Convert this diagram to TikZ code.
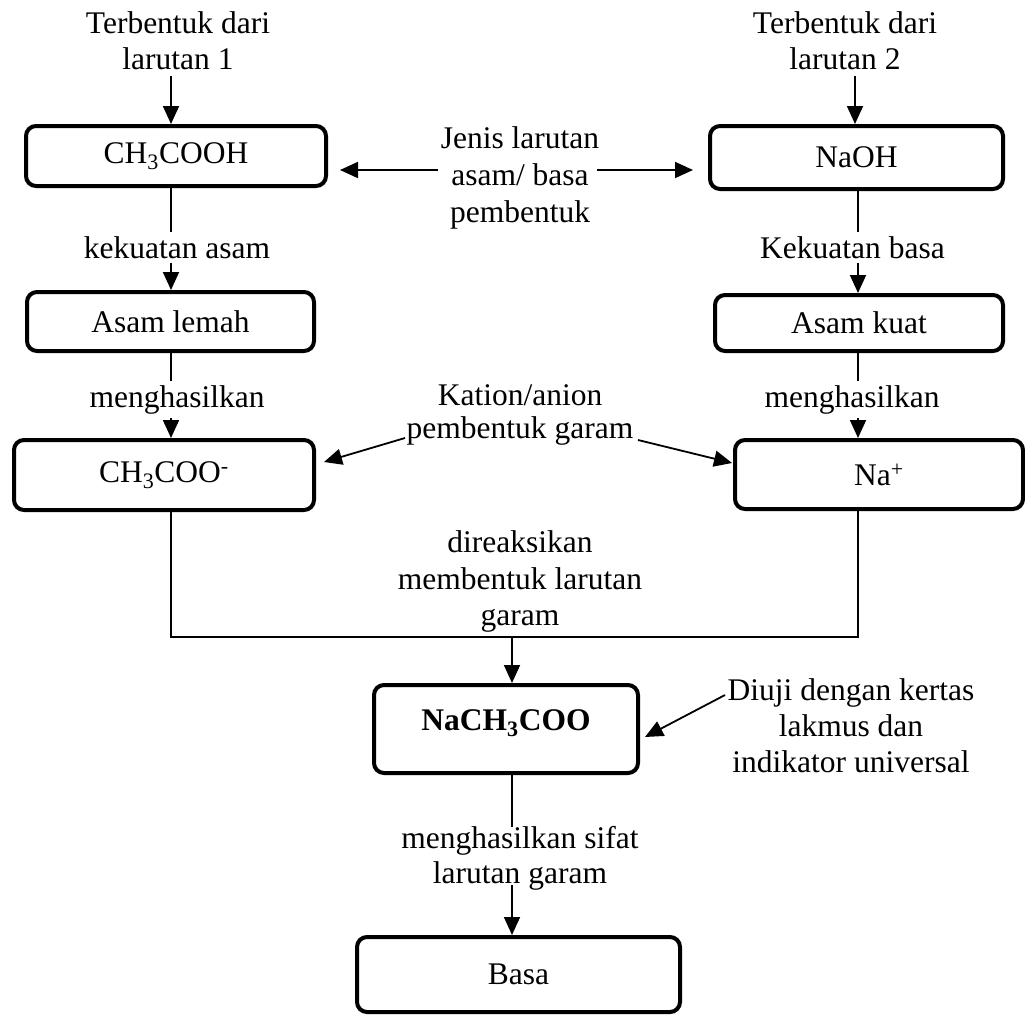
\documentclass[tikz,border=0pt]{standalone}
\usepackage{fontspec}
\setmainfont{Liberation Serif}
\usetikzlibrary{arrows.meta,calc}
\begin{document}
\begin{tikzpicture}[x=1pt,y=-1pt,
  font=\fontsize{31.5}{36}\selectfont,
  box/.style={draw, line width=4pt, rounded corners=10pt, inner sep=0pt, align=center},
  lbl/.style={inner sep=4pt, align=center, anchor=base},
  mlbl/.style={inner sep=0pt, align=center, anchor=north},
  conn/.style={line width=1.8pt},
  arr/.style={conn, -{Triangle[length=18pt,width=16pt]}}]

\useasboundingbox (0,0) rectangle (1025,1015);

% boxes
\node[box, minimum width=300pt, minimum height=60pt] (b1) at (176,156) {\raisebox{-3pt}{CH\textsubscript{3}COOH}};
\node[box, minimum width=293pt, minimum height=63pt] (b2) at (856.5,157.5) {\raisebox{-2pt}{NaOH}};
\node[box, minimum width=287pt, minimum height=59pt] (b3) at (170.5,321.5) {Asam lemah};
\node[box, minimum width=288pt, minimum height=56pt] (b4) at (859,323) {Asam kuat};
\node[box, minimum width=300pt, minimum height=70pt] (b5) at (164,475) {CH\textsubscript{3}COO\textsuperscript{-}};
\node[box, minimum width=288pt, minimum height=69pt] (b6) at (879,474.5) {Na\textsuperscript{+}};
\node[box, minimum width=264pt, minimum height=88pt] (b7) at (506,729) {};
\node[anchor=base, inner sep=0pt] (b7t) at (506,730) {\textbf{NaCH\textsubscript{3}COO}};
\node[box, minimum width=323pt, minimum height=75pt] (b8) at (518.5,974.5) {Basa};

% labels
\node[mlbl] (t1) at (178,11) {Terbentuk dari\\larutan 1};
\node[mlbl] (t2) at (845,11) {Terbentuk dari\\larutan 2};
\node[mlbl] (jenis) at (520,126) {Jenis larutan\\[1pt]asam/ basa\\[1pt]pembentuk};
\node[mlbl] (kation) at (520,384.5) {Kation/anion\\[-3pt]pembentuk garam};
\node[mlbl] (reaksi) at (520,530.5) {direaksikan\\[1pt]membentuk larutan\\garam};
\node[mlbl] (diuji) at (851,678.5) {Diuji dengan kertas\\lakmus dan\\indikator universal};
\node[mlbl] (sifat) at (520,826.5) {menghasilkan sifat\\[-1pt]larutan garam};
\node[lbl] (k1) at (177,258) {kekuatan asam};
\node[lbl] (k2) at (852.5,258) {Kekuatan basa};
\node[lbl] (m1) at (177,407) {menghasilkan};
\node[lbl] (m2) at (852,407) {menghasilkan};

% guide columns and free ends
\coordinate (colL) at (171,0);
\coordinate (colR) at (858,0);
\coordinate (colT) at (855,0);
\coordinate (colC) at (512,0);
\coordinate (join) at (512,637);
\coordinate (jl) at (438,170);
\coordinate (jr) at (597,170);
\coordinate (kl) at (405,438);
\coordinate (kr) at (638,440);
\coordinate (du) at (725,695);

% left column
\draw[arr, shorten <=6pt] (colL |- t1.south) -- (colL |- b1.north);
\draw[conn] (colL |- b1.south) -- (colL |- k1.north);
\draw[arr] (colL |- k1.south) -- (colL |- b3.north);
\draw[conn] (colL |- b3.south) -- (colL |- m1.north);
\draw[arr] (colL |- m1.south) -- (colL |- b5.north);

% right column
\draw[arr, shorten <=6pt] (colT |- t2.south) -- (colT |- b2.north);
\draw[conn] (colR |- b2.south) -- (colR |- k2.north);
\draw[arr] (colR |- k2.south) -- (colR |- b4.north);
\draw[conn] (colR |- b4.south) -- (colR |- m2.north);
\draw[arr] (colR |- m2.south) -- (colR |- b6.north);

% side labels
\draw[arr] (jl) -- ($(b1.east)+(12,14)$);
\draw[arr] (jr) -- ($(b2.west)+(-15,12.5)$);
\draw[arr] (kl) -- ($(b5.east)+(8,-13)$);
\draw[arr] (kr) -- ($(b6.west)+(-1,-11.5)$);
\draw[arr] (du) -- ($(b7.east)+(5,8)$);

% merge into the salt
\draw[conn] (colL |- b5.south) |- (join) -| (colR |- b6.south);
\draw[arr] (join) -- (colC |- b7.north);
\draw[conn] (colC |- b7.south) -- (colC |- sifat.north);
\draw[arr, shorten <=-6pt] (colC |- sifat.south) -- (colC |- b8.north);

\end{tikzpicture}
\end{document}
